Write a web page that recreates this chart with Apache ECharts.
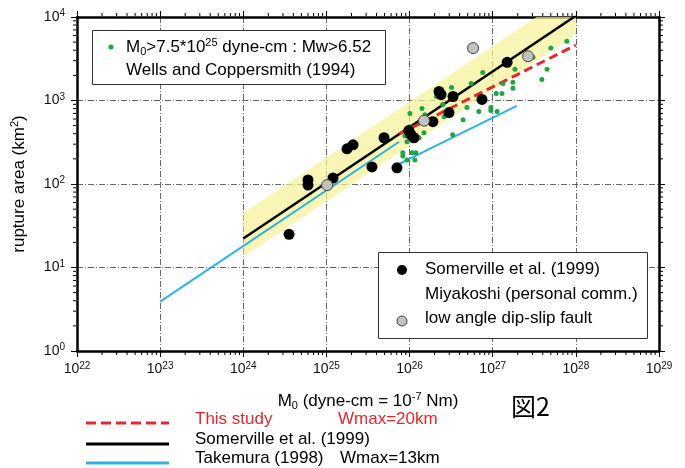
<!DOCTYPE html>
<html>
<head>
<meta charset="utf-8">
<script src="https://cdn.jsdelivr.net/npm/echarts@6/dist/echarts.min.js"></script>
<style>
html, body { margin: 0; padding: 0; background: #fff; }
#chart { width: 685px; height: 468px; }
</style>
</head>
<body>
<div id="chart"></div>
<script>
// tick label exponents
var xExponents = ['22', '23', '24', '25', '26', '27', '28', '29'];
var yExponents = ['0', '1', '2', '3', '4'];

// Somerville et al. (1999) events  [M0 dyne-cm, area km2]
var somervilleEvents = [
    [3.55e24, 25], [6.0e24, 112], [6.0e24, 97], [1.2e25, 118], [1.77e25, 264],
    [2.09e25, 295], [3.53e25, 160], [4.93e25, 358], [7.06e25, 156], [9.8e25, 436],
    [1.04e26, 389], [1.13e26, 358], [1.91e26, 558], [2.98e26, 716], [2.26e26, 1282],
    [2.39e26, 1180], [3.33e26, 1117], [7.43e26, 1029], [1.49e27, 2870]
];
// low angle dip-slip fault
var lowAngleEvents = [[1.02e25, 97], [1.49e26, 574], [5.8e26, 4240], [2.66e27, 3388]];
// Wells and Coppersmith (1994), M0 > 7.5e25
var wellsEvents = [
    [7.8e27, 5140], [5.0e27, 4240], [3.05e27, 3300], [4.5e27, 2360], [3.9e27, 1790],
    [1.85e27, 2360], [1.75e27, 1650], [1.75e27, 1400], [1.33e27, 1600], [1.10e27, 1210],
    [1.29e27, 1210], [7.6e26, 2170], [5.5e26, 1600], [9.5e26, 825], [9.5e26, 759],
    [1.13e27, 737], [6.8e26, 737], [4.9e26, 825], [4.4e26, 590], [3.3e26, 389],
    [3.2e26, 1435], [2.1e26, 1117], [2.5e26, 896], [2.6e26, 641], [1.41e26, 802],
    [1.53e26, 677], [1.01e26, 697], [1.49e26, 411], [1.30e26, 358], [9.3e25, 321],
    [1.01e26, 486], [8.8e25, 378], [8.3e25, 236], [8.3e25, 217], [1.07e26, 236],
    [1.19e26, 236], [9.3e25, 194], [1.16e26, 194]
];

// scaling lines
var thisStudyLine = [[7.5e25, 398], [1e28, 4600]];
var somervilleLine = [[1e24, 22.3], [1e28, 10350]];
var takemuraLine1 = [[1e23, 3.9], [7.5e25, 321]];
var takemuraLine2 = [[7.5e25, 174], [1.95e27, 860]];
// yellow band around Somerville line: [M0, low, high]
var bandEdges = [[1e24, 13.4, 44.6], [1e28, 6210, 20700]];

var minorTicksX = [];
var minorTicksY = [];
for (var n = 22; n < 29; n++) {
    for (var k = 2; k < 10; k++) minorTicksX.push([k * Math.pow(10, n)]);
}
for (var m = 0; m < 4; m++) {
    for (var j = 2; j < 10; j++) minorTicksY.push([j * Math.pow(10, m)]);
}

var FONT = 'Liberation Sans';
var chart = echarts.init(document.getElementById('chart'));

function expLabel(list) {
    return function (value) {
        var e = Math.round(Math.log10(value));
        var i = list.indexOf(String(e));
        return '{b|10}{s|' + (i >= 0 ? list[i] : e) + '}';
    };
}
var labelRich = {
    b: { fontSize: 14, fontFamily: FONT, color: '#111', lineHeight: 17 },
    s: { fontSize: 10, fontFamily: FONT, color: '#111', verticalAlign: 'top', lineHeight: 10 }
};
var gridLine = { show: true, lineStyle: { color: '#444', width: 0.8, type: [6, 2, 1, 2] } };
var frame = { show: true, lineStyle: { color: '#000', width: 2.5 } };

function tickRender(axis) {
    return function (params, api) {
        var v = api.value(0);
        var a, b;
        if (axis === 'x') {
            a = api.coord([v, 1]);
            b = api.coord([v, 1e4]);
            return { type: 'group', children: [
                { type: 'line', shape: { x1: a[0], y1: a[1] + 1, x2: a[0], y2: a[1] + 4 }, style: { stroke: '#000', lineWidth: 1 } },
                { type: 'line', shape: { x1: b[0], y1: b[1] - 1, x2: b[0], y2: b[1] - 4 }, style: { stroke: '#000', lineWidth: 1 } }
            ] };
        }
        a = api.coord([1e22, v]);
        b = api.coord([1e29, v]);
        return { type: 'group', children: [
            { type: 'line', shape: { x1: a[0] - 1, y1: a[1], x2: a[0] - 4, y2: a[1] }, style: { stroke: '#000', lineWidth: 1 } },
            { type: 'line', shape: { x1: b[0] + 1, y1: b[1], x2: b[0] + 4, y2: b[1] }, style: { stroke: '#000', lineWidth: 1 } }
        ] };
    };
}

var option = {
    animation: false,
    backgroundColor: '#fff',
    grid: { left: 77, right: 26, top: 17, bottom: 117 },
    xAxis: [{
        type: 'log', logBase: 10, min: 1e22, max: 1e29,
        axisLine: frame,
        axisTick: { show: true, length: 6, lineStyle: { color: '#000', width: 1 } },
        axisLabel: { formatter: expLabel(xExponents), rich: labelRich, margin: 10 },
        splitLine: gridLine,
        name: '{b|M}{sub|0}{b| (dyne-cm = 10}{sup|-7}{b| Nm)}',
        nameLocation: 'middle', nameGap: 40,
        nameTextStyle: { rich: {
            b: { fontSize: 17, fontFamily: FONT, color: '#000', lineHeight: 20 },
            sub: { fontSize: 11, fontFamily: FONT, color: '#000', verticalAlign: 'bottom', lineHeight: 11 },
            sup: { fontSize: 11, fontFamily: FONT, color: '#000', verticalAlign: 'top', lineHeight: 11 }
        } }
    }, {
        type: 'log', logBase: 10, min: 1e22, max: 1e29, position: 'top',
        axisLine: frame,
        axisTick: { show: true, length: 6, lineStyle: { color: '#000', width: 1 } },
        axisLabel: { show: false }, splitLine: { show: false }
    }],
    yAxis: [{
        type: 'log', logBase: 10, min: 1, max: 1e4,
        axisLine: frame,
        axisTick: { show: true, length: 6, lineStyle: { color: '#000', width: 1 } },
        axisLabel: { formatter: expLabel(yExponents), rich: labelRich, margin: 12 },
        splitLine: gridLine,
        name: '{b|rupture area (km}{sup|2}{b|)}',
        nameLocation: 'middle', nameGap: 48, nameRotate: 90,
        nameTextStyle: { rich: {
            b: { fontSize: 17, fontFamily: FONT, color: '#000', lineHeight: 20 },
            sup: { fontSize: 11, fontFamily: FONT, color: '#000', verticalAlign: 'top', lineHeight: 11 }
        } }
    }, {
        type: 'log', logBase: 10, min: 1, max: 1e4, position: 'right',
        axisLine: frame,
        axisTick: { show: true, length: 6, lineStyle: { color: '#000', width: 1 } },
        axisLabel: { show: false }, splitLine: { show: false }
    }],
    series: [
        {
            type: 'custom', name: 'band', z: 1, silent: true, clip: true,
            data: [0],
            renderItem: function (params, api) {
                if (params.dataIndex > 0) return;
                var pts = [];
                bandEdges.forEach(function (d) { pts.push(api.coord([d[0], d[2]])); });
                bandEdges.slice().reverse().forEach(function (d) { pts.push(api.coord([d[0], d[1]])); });
                return { type: 'polygon', shape: { points: pts }, style: { fill: 'rgba(247,241,150,0.7)' } };
            }
        },
        { type: 'custom', silent: true, clip: false, data: minorTicksX, renderItem: tickRender('x') },
        { type: 'custom', silent: true, clip: false, data: minorTicksY, renderItem: tickRender('y') },
        {
            type: 'line', name: 'Takemura 1', data: takemuraLine1, symbol: 'none', z: 3,
            lineStyle: { color: '#2fb0e6', width: 2 }
        },
        {
            type: 'line', name: 'Takemura 2', data: takemuraLine2, symbol: 'none', z: 3,
            lineStyle: { color: '#2fb0e6', width: 2 }
        },
        {
            type: 'line', name: 'Somerville line', data: somervilleLine, symbol: 'none', z: 3, clip: true,
            lineStyle: { color: '#000', width: 2.5 }
        },
        {
            type: 'line', name: 'This study', data: thisStudyLine, symbol: 'none', z: 3, clip: true,
            lineStyle: { color: '#e8262c', width: 3, type: [9, 5] }
        },
        {
            type: 'scatter', name: 'Wells', data: wellsEvents, symbolSize: 5, z: 4,
            itemStyle: { color: '#1ea642', opacity: 1 }
        },
        {
            type: 'scatter', name: 'Somerville', data: somervilleEvents, symbolSize: 11, z: 5,
            itemStyle: { color: '#000', opacity: 1 }
        },
        {
            type: 'scatter', name: 'low angle', data: lowAngleEvents, symbolSize: 11, z: 6,
            itemStyle: { color: '#c2c2c2', borderColor: '#444', borderWidth: 1, opacity: 1 }
        }
    ],
    graphic: [
        // upper-left legend
        { type: 'rect', left: 92, top: 30, shape: { width: 293, height: 54 }, style: { fill: '#fff', stroke: '#333', lineWidth: 1 }, z: 50 },
        { type: 'circle', shape: { cx: 111, cy: 47, r: 2.5 }, style: { fill: '#1ea642' }, z: 51 },
        {
            type: 'text', left: 126, top: 37, z: 51,
            style: {
                text: '{b|M}{sub|0}{b|>7.5*10}{sup|25}{b| dyne-cm : Mw>6.52}',
                rich: {
                    b: { fontSize: 17, fontFamily: FONT, fill: '#000', lineHeight: 20 },
                    sub: { fontSize: 11, fontFamily: FONT, fill: '#000', verticalAlign: 'bottom', lineHeight: 11 },
                    sup: { fontSize: 11, fontFamily: FONT, fill: '#000', verticalAlign: 'top', lineHeight: 11 }
                }
            }
        },
        { type: 'text', left: 126, top: 62, z: 51, style: { text: 'Wells and Coppersmith (1994)', fontSize: 17, fontFamily: FONT, fill: '#000' } },
        // lower-right legend
        { type: 'rect', left: 378, top: 252, shape: { width: 269, height: 86 }, style: { fill: '#fff', stroke: '#333', lineWidth: 1 }, z: 50 },
        { type: 'circle', shape: { cx: 402, cy: 270, r: 5 }, style: { fill: '#000' }, z: 51 },
        { type: 'text', left: 425, top: 261, z: 51, style: { text: 'Somerville et al. (1999)', fontSize: 17, fontFamily: FONT, fill: '#000' } },
        { type: 'text', left: 425, top: 286, z: 51, style: { text: 'Miyakoshi (personal comm.)', fontSize: 17, fontFamily: FONT, fill: '#000' } },
        { type: 'circle', shape: { cx: 402, cy: 321, r: 5 }, style: { fill: '#c2c2c2', stroke: '#444', lineWidth: 1 }, z: 51 },
        { type: 'text', left: 425, top: 310, z: 51, style: { text: 'low angle dip-slip fault', fontSize: 17, fontFamily: FONT, fill: '#000' } },
        // bottom legend
        { type: 'line', shape: { x1: 86, y1: 423, x2: 169, y2: 423 }, style: { stroke: '#e8262c', lineWidth: 3, lineDash: [10, 5] } },
        { type: 'text', left: 195, top: 411, style: { text: 'This study', fontSize: 17, fontFamily: FONT, fill: '#e8262c' } },
        { type: 'text', left: 338, top: 411, style: { text: 'Wmax=20km', fontSize: 17, fontFamily: FONT, fill: '#e8262c' } },
        { type: 'line', shape: { x1: 86, y1: 444, x2: 169, y2: 444 }, style: { stroke: '#000', lineWidth: 3 } },
        { type: 'text', left: 195, top: 431, style: { text: 'Somerville et al. (1999)', fontSize: 17, fontFamily: FONT, fill: '#000' } },
        { type: 'line', shape: { x1: 86, y1: 463, x2: 169, y2: 463 }, style: { stroke: '#2fb0e6', lineWidth: 3 } },
        { type: 'text', left: 195, top: 450, style: { text: 'Takemura (1998)', fontSize: 17, fontFamily: FONT, fill: '#000' } },
        { type: 'text', left: 340, top: 450, style: { text: 'Wmax=13km', fontSize: 17, fontFamily: FONT, fill: '#000' } },
        { type: 'text', left: 511, top: 394, style: { text: '図2', fontSize: 25, fontFamily: 'Noto Sans CJK JP', fill: '#000' } }
    ]
};
chart.setOption(option);
</script>
</body>
</html>
